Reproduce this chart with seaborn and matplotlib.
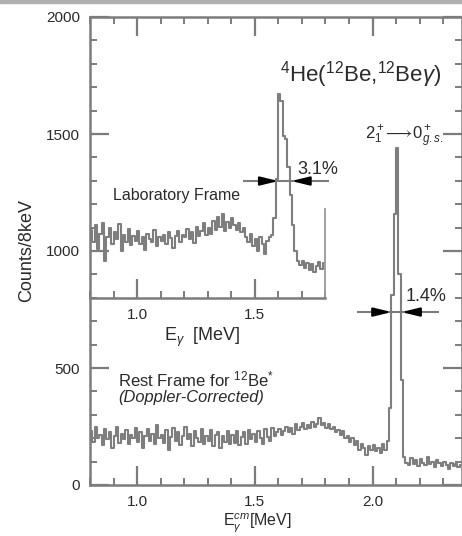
import numpy as np
import pandas as pd
import matplotlib
matplotlib.use("Agg")
import matplotlib.pyplot as plt
import seaborn as sns
from matplotlib.ticker import MultipleLocator
from matplotlib.patches import Rectangle

# ---------------- data ----------------
bin_width = 0.01            # MeV
rest_start = 0.80           # first bin low edge, rest frame (Doppler corrected)
lab_start = 0.80            # first bin low edge, laboratory frame

rest_counts = [
    230, 185, 250, 200, 215, 170, 240, 195, 225, 160,   # 0.80-0.89
    210, 250, 180, 220, 195, 235, 175, 215, 200, 245,   # 0.90
    185, 225, 160, 210, 240, 190, 220, 175, 255, 200,   # 1.00
    215, 180, 235, 150, 205, 245, 190, 225, 170, 210,   # 1.10
    250, 195, 220, 165, 230, 200, 185, 240, 175, 210,   # 1.20
    190, 235, 165, 215, 225, 160, 210, 185, 230, 175,   # 1.30
    215, 180, 230, 170, 205, 225, 175, 235, 195, 220,   # 1.40
    185, 230, 200, 175, 240, 205, 190, 245, 210, 225,   # 1.50
    240, 215, 230, 250, 225, 245, 220, 260, 235, 250,   # 1.60
    265, 240, 255, 245, 270, 250, 260, 285, 255, 265,   # 1.70
    245, 260, 240, 250, 225, 235, 215, 230, 200, 210,   # 1.80
    185, 200, 170, 190, 150, 175, 160, 130, 165, 150,   # 1.90
    170, 145, 160, 135, 175, 150, 190, 330, 810, 1160,  # 2.00
    1440, 900, 450, 120, 95, 85, 115, 90, 105, 80,      # 2.10
    110, 95, 85, 120, 90, 100, 75, 105, 95, 80,         # 2.20
    100, 85, 70, 95, 80, 90, 75, 85,                    # 2.30-2.37
]

lab_counts = [
    1090, 1040, 1110, 1010, 1075, 1120, 960, 1060, 1100, 1030,   # 0.80
    1080, 1050, 1115, 1000, 1070, 1040, 1095, 1025, 1065, 1045,  # 0.90
    1085, 1030, 1060, 1005, 1075, 1050, 1040, 1090, 1020, 1060,  # 1.00
    1045, 1070, 1030, 1080, 1055, 1015, 1065, 1085, 1040, 1070,  # 1.10
    1060, 1095, 1050, 1080, 1035, 1105, 1065, 1085, 1120, 1070,  # 1.20
    1100, 1075, 1130, 1090, 1145, 1105, 1160, 1085, 1125, 1100,  # 1.30
    1140, 1110, 1090, 1120, 1080, 1100, 1060, 1040, 1075, 1020,  # 1.40
    1050, 1000, 1060, 1030, 990, 1045, 1060, 1070, 1140, 1310,   # 1.50
    1670, 1640, 1490, 1480, 1360, 1240, 1110, 1000, 960, 940,    # 1.60
    960, 930, 950, 920, 945, 910, 935, 955, 925, 950,            # 1.70
]
lab_end_level = 1180        # last histogram edge of the lab spectrum

# FWHM annotations: (line start, left tip, right tip, line end, level)
lab_fwhm = (1.451, 1.600, 1.655, 1.817, 1299)
rest_fwhm = (1.932, 2.081, 2.123, 2.281, 739)

x_tick_major, x_tick_minor = 0.5, 0.1
y_tick_major, y_tick_minor = 500, 100

# ---------------- build tables ----------------
rest_df = pd.DataFrame({
    "E": rest_start + bin_width * (np.arange(len(rest_counts)) + 0.5),
    "counts": rest_counts,
})
lab_df = pd.DataFrame({
    "E": lab_start + bin_width * (np.arange(len(lab_counts)) + 0.5),
    "counts": lab_counts,
})

# ---------------- style ----------------
sns.set_theme(style="white")
plt.rcParams["font.family"] = ["Liberation Sans", "DejaVu Sans"]
plt.rcParams["mathtext.fontset"] = "custom"
plt.rcParams["mathtext.rm"] = "Liberation Sans"
plt.rcParams["mathtext.it"] = "Liberation Sans:italic"
plt.rcParams["mathtext.bf"] = "Liberation Sans:bold"

axis_gray = "#7c7c7c"
line_gray = "#7e7e7e"
text_col = "#2a2a2a"

W, H = 462, 536
fig = plt.figure(figsize=(W / 100, H / 100), dpi=100)
fig.patch.set_facecolor("white")


def px_box(l, t, r, b):
    return [l / W, 1 - b / H, (r - l) / W, (b - t) / H]


ax = fig.add_axes(px_box(90, 17, 462, 485))
axin = fig.add_axes(px_box(90, 17, 325, 298))
axin.patch.set_alpha(0)

# scan border at top
fig.patches.append(Rectangle((0, 1 - 3 / H), 1, 3 / H, transform=fig.transFigure,
                             color="#b0b0b0", zorder=0))

# ---------------- main (rest frame) ----------------
sns.lineplot(data=rest_df, x="E", y="counts", ax=ax, drawstyle="steps-mid",
             color=line_gray, lw=1.5)
ax.set_xlim(0.80, 2.38)
ax.set_ylim(0, 2000)
ax.xaxis.set_major_locator(MultipleLocator(x_tick_major))
ax.xaxis.set_minor_locator(MultipleLocator(x_tick_minor))
ax.yaxis.set_major_locator(MultipleLocator(y_tick_major))
ax.yaxis.set_minor_locator(MultipleLocator(y_tick_minor))
ax.tick_params(which="both", direction="in", top=True, right=True,
               bottom=True, left=True,
               color=axis_gray, labelcolor=text_col, labelsize=11)
ax.tick_params(which="major", length=14, width=1.6, pad=7)
ax.tick_params(which="minor", length=5, width=1.4)
ax.tick_params(axis="x", which="major", pad=7)
for s in ax.spines.values():
    s.set_color(axis_gray)
    s.set_linewidth(1.8)
ax.set_xlabel(r"E$_\gamma^{cm}$[MeV]", fontsize=11.5, color=text_col)
ax.xaxis.set_label_coords(0.45, -0.055)
ax.set_ylabel("Counts/8keV", fontsize=13, color=text_col, labelpad=8)

# ---------------- inset (laboratory frame) ----------------
sns.lineplot(data=lab_df, x="E", y="counts", ax=axin, drawstyle="steps-mid",
             color=line_gray, lw=1.5)
axin.set_xlim(0.80, 1.80)
axin.set_ylim(800, 2000)
axin.xaxis.set_major_locator(MultipleLocator(x_tick_major))
axin.xaxis.set_minor_locator(MultipleLocator(x_tick_minor))
axin.set_yticks([])
axin.tick_params(which="both", direction="in", bottom=True, left=False,
                 color=axis_gray, labelcolor=text_col, labelsize=11)
axin.tick_params(which="major", length=14, width=1.6, pad=7)
axin.tick_params(which="minor", length=5, width=1.4)
for k in ("left", "top"):
    axin.spines[k].set_visible(False)
axin.spines["bottom"].set_color(axis_gray)
axin.spines["bottom"].set_linewidth(1.8)
axin.spines["right"].set_color("#9a9a9a")
axin.spines["right"].set_linewidth(1.3)
axin.spines["right"].set_bounds(800, lab_end_level)
axin.set_xlabel(r"E$_\gamma$  [MeV]", fontsize=13, color=text_col, labelpad=1)
axin.xaxis.set_label_coords(0.48, -0.10)
axin.set_ylabel("")


# ---------------- FWHM arrows ----------------
def fwhm_marker(a, spec):
    x0, tl, tr, x1, y = spec
    a.hlines(y, x0, x1, color=axis_gray, lw=1.5, zorder=4)
    head = dict(arrowstyle="-|>,head_length=0.9,head_width=0.22", color="black",
                lw=1.5, shrinkA=0, shrinkB=0)
    a.annotate("", xy=(tl, y), xytext=(tl - 0.055, y), arrowprops=head, zorder=5)
    a.annotate("", xy=(tr, y), xytext=(tr + 0.055, y), arrowprops=head, zorder=5)


fwhm_marker(ax, lab_fwhm)
fwhm_marker(ax, rest_fwhm)

# ---------------- texts ----------------
ax.text(1.609, 1752, r"$^{4}$He($^{12}$Be,$^{12}$Be$\gamma$)", fontsize=16,
        color=text_col, va="center", ha="left")
ax.text(1.968, 1490, r"$2^+_1\!\longrightarrow\!0^+_{g.s.}$", fontsize=12,
        color=text_col, va="center", ha="left")
ax.text(1.681, 1350, "3.1%", fontsize=13, color=text_col, va="center", ha="left")
ax.text(0.898, 1239, "Laboratory Frame", fontsize=11.5, color=text_col,
        va="center", ha="left")
ax.text(2.140, 805, "1.4%", fontsize=13, color=text_col, va="center", ha="left")
ax.text(0.919, 449, r"Rest Frame for $^{12}$Be$^{*}$", fontsize=12,
        color=text_col, va="center", ha="left")
ax.text(0.919, 372, "(Doppler-Corrected)", fontsize=11.8, style="italic",
        color=text_col, va="center", ha="left")

fig.savefig("out.png", dpi=100, facecolor="white")
